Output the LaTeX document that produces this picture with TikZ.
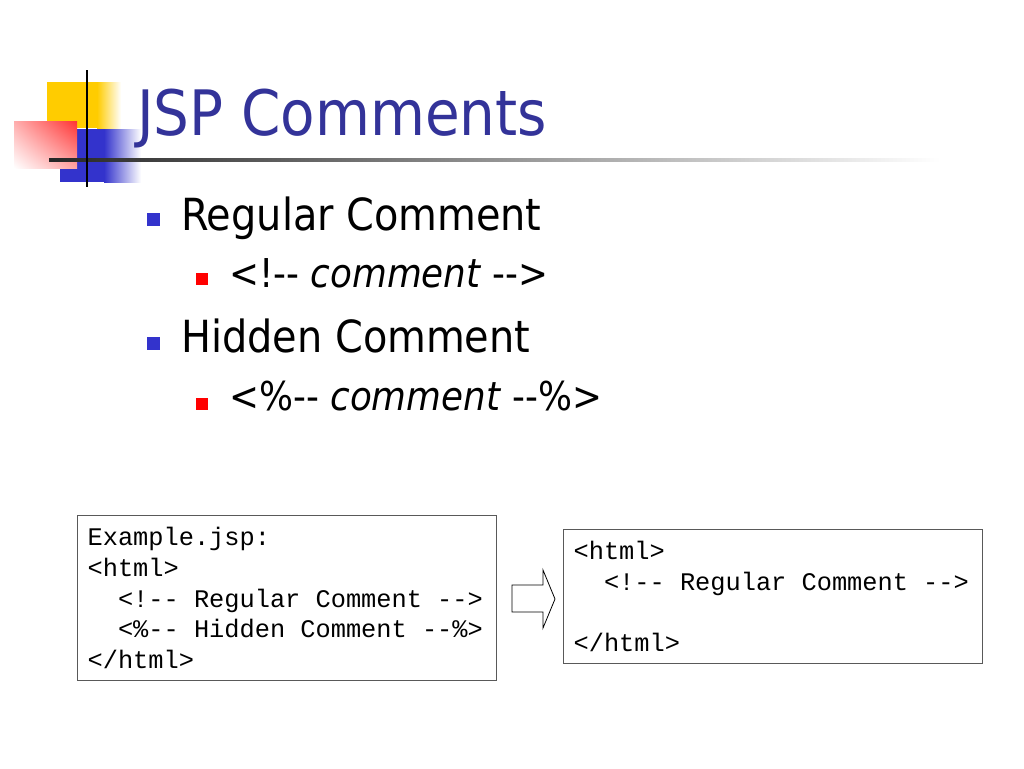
\documentclass[tikz,border=0pt]{standalone}
\usepackage{fontspec}
\setmainfont{DejaVu Sans Condensed}
\newfontfamily\codefont{Liberation Mono}
\usetikzlibrary{positioning, shadings}
\definecolor{titleblue}{HTML}{333399}
\definecolor{bulletblue}{HTML}{3333CC}
\definecolor{logoyellow}{HTML}{FFCC00}
\definecolor{logored}{HTML}{FF3333}
\definecolor{logoblue}{HTML}{3333CC}
\newcommand{\codespaces}{\spaceskip=\fontdimen2\font\relax}

\tikzset{
  slidetitle/.style={anchor=base west, inner sep=0pt, text=titleblue, font=\fontsize{47}{56}\selectfont},
  levelone/.style={anchor=base west, inner sep=0pt, font=\fontsize{33.2}{40}\selectfont},
  leveltwo/.style={anchor=base west, inner sep=0pt, font=\fontsize{29.8}{36}\selectfont},
  bluebullet/.style={fill=bulletblue, minimum size=9.75pt, inner sep=0pt, anchor=north west},
  redbullet/.style={fill=red, minimum size=8.6pt, inner sep=0pt, anchor=north west},
  codebox/.style={draw=black!65, line width=0.9pt, anchor=north west, align=left,
    inner xsep=7.5pt, inner ysep=0pt, text width=299.25pt,
    font=\codefont\fontsize{19}{23}\selectfont, execute at begin node=\codespaces}
}

\begin{document}
\begin{tikzpicture}[x=0.75pt, y=-0.75pt]
    \useasboundingbox (0,0) rectangle (1024,768);
    % logo
    \fill[logoyellow] (47,82) rectangle (97,128);
    \shade[left color=logoyellow, right color=white] (97,82) rectangle (121,128);
    \fill[logoblue] (60,129) rectangle (104,182);
    \shade[left color=logoblue, right color=white] (104,129) rectangle (141,182);
    \shade[upper right=logored, upper left=logored!40!white,
           lower right=logored!45!white, lower left=white] (14,121) rectangle (77,168);
    \shade[left color=black!85, right color=white] (49,158.5) rectangle (940,161.5);
    \draw[line width=2.2pt] (87,70) -- (87,187);

    \node[slidetitle] (title) at (137,135) {JSP Comments};

    \node[bluebullet] (b_1) at (147,213) {};
    \node[levelone] (regular) at (181,230) {Regular Comment};
    \node[redbullet] (r_1) at (196,273) {};
    \node[leveltwo] (regsyntax) at (229,287) {<!-{}- \textit{comment} -{}->};
    \node[bluebullet] (b_2) at (147,337) {};
    \node[levelone] (hidden) at (181,352) {Hidden Comment};
    \node[redbullet] (r_2) at (196,398) {};
    \node[leveltwo] (hidsyntax) at (229,410) {<\%-{}- \textit{comment} -{}-\%>};

    \node[codebox, minimum height=123.75pt] (source) at (77,515)
        {Example.jsp:\\<html>\\\phantom{xx}<!-{}- Regular Comment -{}->\\\phantom{xx}<\%-{}- Hidden Comment -{}-\%>\\</html>};
    \node[codebox, minimum height=100.5pt] (output) at (563,529)
        {<html>\\\phantom{xx}<!-{}- Regular Comment -{}->\\\mbox{}\\</html>};

    \draw[fill=white, line width=0.6pt] (512,585) -- (543,585) -- (543,570) -- (555,599)
        -- (543,628) -- (543,612) -- (512,612) -- cycle;
\end{tikzpicture}
\end{document}
